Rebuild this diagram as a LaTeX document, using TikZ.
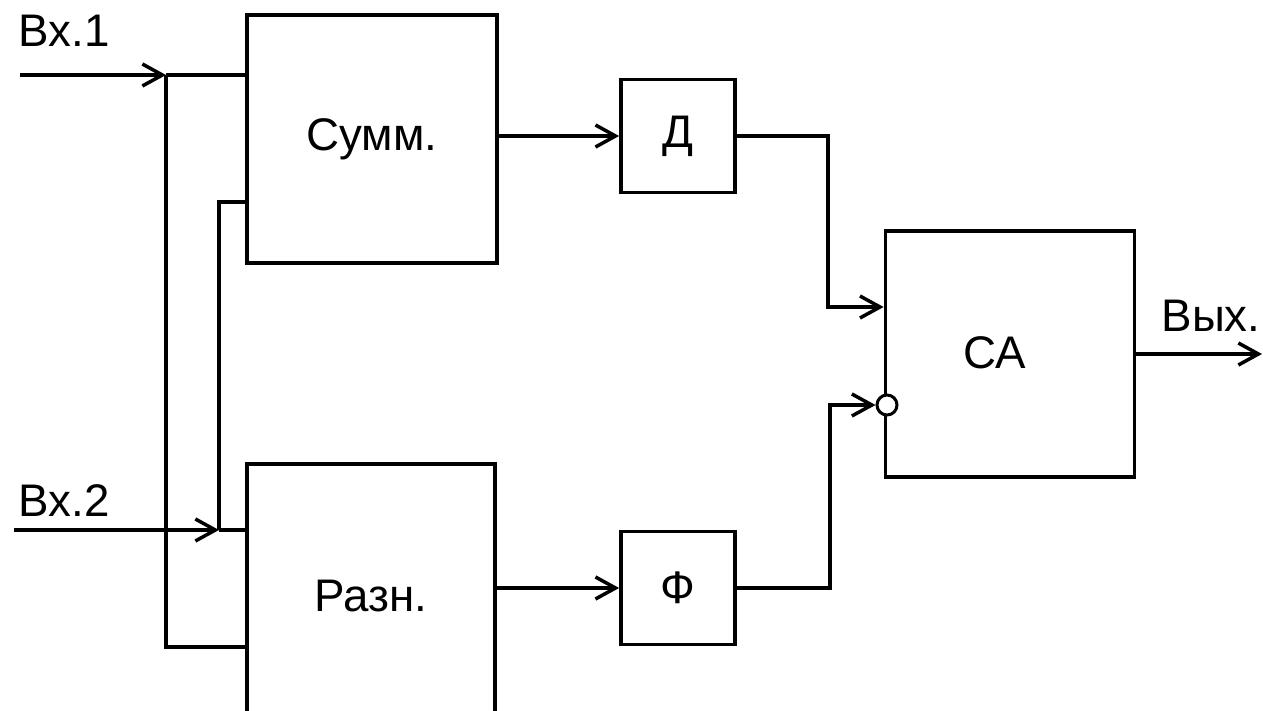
\documentclass[tikz,border=0pt]{standalone}
\usepackage{fontspec}
\setmainfont{Liberation Sans}
\usetikzlibrary{arrows.meta,positioning,calc}

\tikzset{
  blk/.style={draw,line width=0.75mm,minimum width=50mm,minimum height=49.6mm,
    font=\fontsize{26}{30}\selectfont,inner sep=0pt},
  sblk/.style={blk,minimum width=22.8mm,minimum height=22.6mm},
  sig/.style={font=\fontsize{26}{30}\selectfont,inner sep=0pt},
  wire/.style={line width=0.7mm},
  arr/.style={wire,-{Straight Barb[length=4mm,width=4.4mm,line width=0.7mm]}}
}

\begin{document}
\begin{tikzpicture}[x=0.2mm,y=-0.2mm]
  \useasboundingbox (0,0) rectangle (1263,711);
  \clip (0,0) rectangle (1263,711);

  % blocks
  \node[blk] (summ) at (372,139) {Сумм.};
  \node[blk,minimum width=49.6mm,minimum height=52.8mm] (razn) at (371,596) {Разн.};
  \node[sblk] (del) at (678,136) {Д};
  \node[sblk] (fvr) at (678,588) {Ф};
  \node[blk,minimum width=49.8mm,minimum height=49.2mm] (ca) at (1010,354) {};
  \node[sig] (catxt) at (995,353) {СА};
  \node[draw,circle,line width=0.6mm,minimum size=4mm,inner sep=0pt,fill=white]
    (inv) at (887,405) {};

  % labels
  \node[sig] (lin1) at (64,31) {Вх.1};
  \node[sig] (lin2) at (64,501) {Вх.2};
  \node[sig] (lout) at (1211,316) {Вых.};

  % inputs
  \coordinate (in1) at (20,75);
  \coordinate (j1) at (166,75);
  \coordinate (j1b) at (166,647);
  \coordinate (in2) at (14,530);
  \coordinate (j2) at (219,530);
  \coordinate (j2b) at (219,202);
  \draw[arr] (in1) -- (j1);
  \draw[wire] (j1) -- (j1 -| summ.west);
  \draw[wire] (j1) -- (j1b) -- (j1b -| razn.west);
  \draw[arr] (in2) -- (j2);
  \draw[wire] (j2) -- (j2 -| razn.west);
  \draw[wire] (j2) -- (j2b) -- (j2b -| summ.west);

  % middle
  \draw[arr] (del.west -| summ.east) -- (del.west);
  \draw[arr] (fvr.west -| razn.east) -- (fvr.west);

  % to CA
  \coordinate (k1) at (828,307);
  \coordinate (k2) at (830,405);
  \draw[arr] (del.east) -| (k1) -- (k1 -| ca.west);
  \draw[arr] (fvr.east) -| (k2) -- (inv.west);

  % output
  \coordinate (out) at (1262,354);
  \draw[arr] (ca.east) -- (out);
\end{tikzpicture}
\end{document}
